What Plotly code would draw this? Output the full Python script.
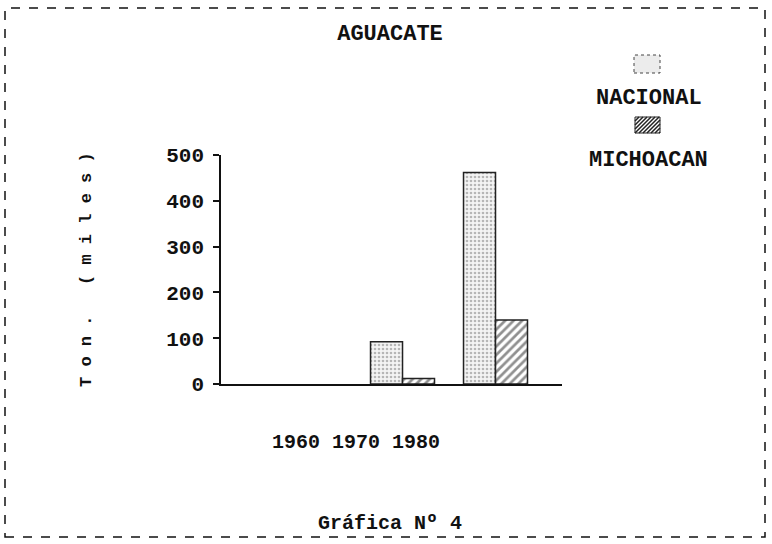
import plotly.graph_objects as go

# ---- data ----
years = [1960, 1970, 1980]
year_labels = ["1960", "1970", "1980"]
nacional = [0, 92, 462]
michoacan = [0, 12, 140]
y_ticks = [0, 100, 200, 300, 400, 500]

FONT = "Liberation Mono"
W, H = 772, 544
L, R, T, B = 221, 210, 155, 160
pw, ph = W - L - R, H - T - B


def px(x):
    return (x - L) / pw


def py(y):
    return (H - B - y) / ph


def outline(vals):
    return [1.5 if v > 0 else 0 for v in vals]


fig = go.Figure()
fig.add_trace(go.Bar(
    x=years, y=nacional, name="NACIONAL",
    marker=dict(color="white",
                line=dict(color="#222", width=outline(nacional)),
                pattern=dict(shape=".", fgcolor="#777", bgcolor="#f4f4f4",
                             size=4, solidity=0.35, fillmode="overlay")),
))
fig.add_trace(go.Bar(
    x=years, y=michoacan, name="MICHOACAN",
    marker=dict(color="white",
                line=dict(color="#222", width=outline(michoacan)),
                pattern=dict(shape="/", fgcolor="#222", bgcolor="white",
                             size=6, solidity=0.45, fillmode="overlay")),
))

# label positions (labels in the original are offset left of the bar groups)
label_pos = [years[0] - 1.45 + 6.45 * i for i in range(len(years))]

fig.update_layout(
    width=W, height=H,
    margin=dict(l=L, r=R, t=T, b=B, pad=0),
    paper_bgcolor="white", plot_bgcolor="white",
    barmode="group", bargap=0.312, bargroupgap=0,
    showlegend=False,
    font=dict(family=FONT, color="#111"),
    title=dict(text="<b>AGUACATE</b>", x=390 / W, xanchor="center",
               y=1 - 32 / H, yanchor="middle",
               font=dict(family=FONT, size=22, color="#111")),
    xaxis=dict(range=[1950.48, 1987.15], showgrid=False, zeroline=False,
               showline=True, linecolor="#111", linewidth=1.5,
               tickmode="array", tickvals=label_pos,
               ticktext=[f"<b>{t}</b>" for t in year_labels],
               ticks="", tickfont=dict(family=FONT, size=20, color="#111"),
               ticklabelstandoff=38),
    yaxis=dict(range=[0, 500], showgrid=False, zeroline=False,
               showline=True, linecolor="#111", linewidth=1.5,
               tickmode="array", tickvals=y_ticks,
               ticktext=[f"<b>{t}</b>" for t in y_ticks],
               ticks="outside", ticklen=6, tickcolor="#111", tickwidth=1.5,
               tickfont=dict(family=FONT, size=21, color="#111"),
               ticklabelstandoff=5),
)


def ann(text, x, y, size, angle=0):
    fig.add_annotation(text=text, xref="paper", yref="paper",
                       x=px(x), y=py(y), xanchor="center", yanchor="middle",
                       showarrow=False, textangle=angle,
                       font=dict(family=FONT, size=size, color="#111"))


# legend (swatches above their labels, as in the original)
fig.add_shape(type="rect", xref="paper", yref="paper",
              x0=px(634), x1=px(660), y0=py(73), y1=py(55),
              line=dict(color="#444", width=1, dash="dot"), fillcolor="#ececec")
fig.add_shape(type="rect", xref="paper", yref="paper",
              x0=px(635), x1=px(660), y0=py(133), y1=py(117),
              line=dict(color="#222", width=1), fillcolor="white")
hatch = ""
for k in range(-12, 26, 4):
    xa, ya = 635 + k, 133
    xb, yb = 635 + k + 16, 117
    if xa < 635:
        ya = 133 - (635 - xa)
        xa = 635
    if xb > 660:
        yb = 117 + (xb - 660)
        xb = 660
    if xa < xb:
        hatch += f"M{px(xa)},{py(ya)} L{px(xb)},{py(yb)} "
fig.add_shape(type="path", xref="paper", yref="paper", path=hatch,
              line=dict(color="#222", width=1.5))

ann("<b>NACIONAL</b>", 649, 98, 22)
ann("<b>MICHOACAN</b>", 648, 160, 22)

# y axis title
ann("<b>T o n .   ( m i l e s )</b>", 86, 270, 17, angle=-90)

# footer
ann("<b>Gráfica Nº 4</b>", 390, 523, 20)

# dashed page border
fig.add_shape(type="rect", xref="paper", yref="paper",
              x0=px(5), x1=px(765), y0=py(537), y1=py(8),
              line=dict(color="#111", width=1.5, dash="dash"))

fig.write_html("out.html", config={"displayModeBar": False},
               post_script="document.body.style.margin='0';document.body.style.padding='0';")
